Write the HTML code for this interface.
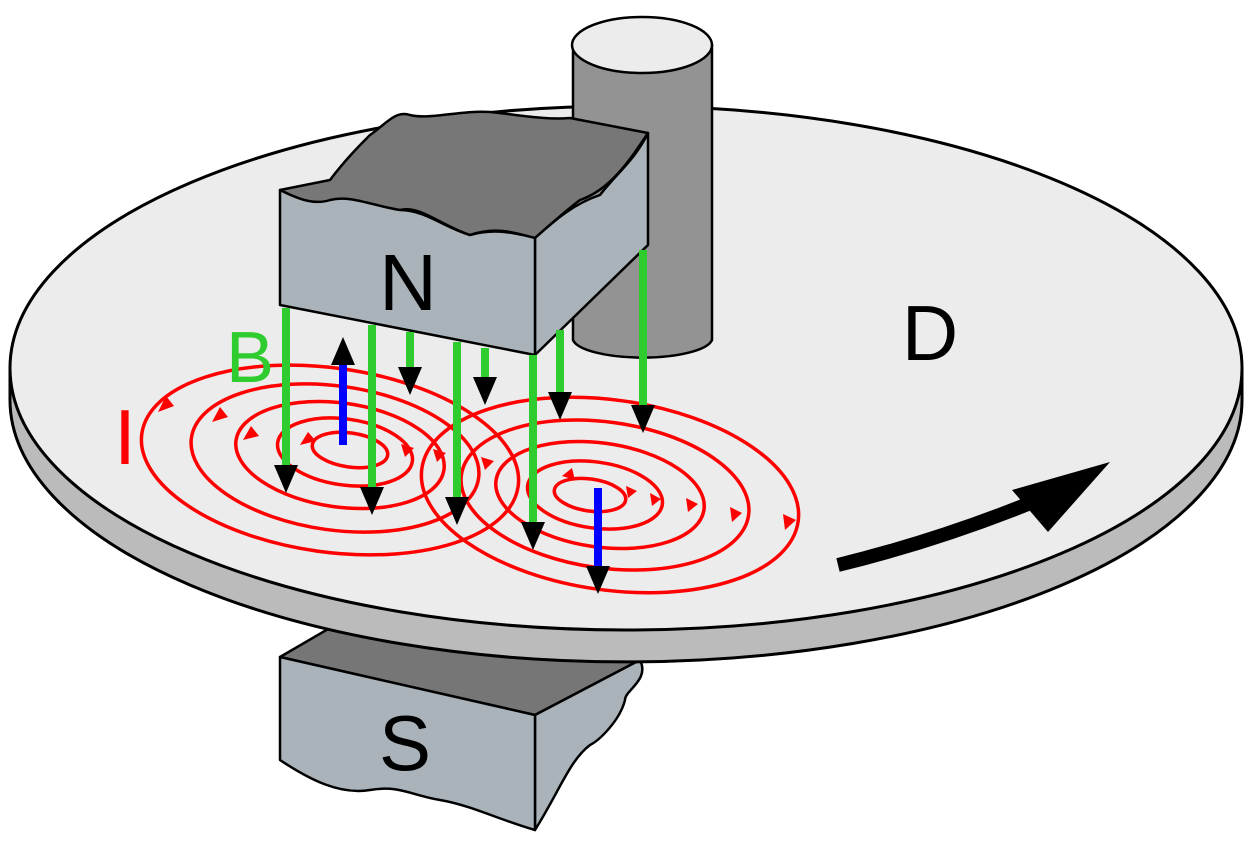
<!DOCTYPE html>
<html><head><meta charset="utf-8"><style>
html,body{margin:0;padding:0;background:#fff;width:1260px;height:845px;overflow:hidden}
svg{display:block}
text{font-family:"Liberation Sans",sans-serif}
</style></head><body>
<svg width="1260" height="845" viewBox="0 0 1260 845">
<!-- S magnet -->
<g stroke="#000" stroke-width="2.5" stroke-linejoin="round">
<path d="M280,657 L335,625 L640,660 L535,715 Z" fill="#767676"/>
<path d="M535,715 L640,660 C650,680 625,690 625,700 C620,720 600,740 590,745 C570,760 560,790 535,830 Z" fill="#a9b3b9"/>
<path d="M280,657 L535,715 L535,830 C500,820 470,805 440,800 C410,795 400,785 370,790 C340,795 310,780 280,760 Z" fill="#a9b3b9"/>
<text x="405" y="770" font-size="78" text-anchor="middle" fill="#000" stroke="none">S</text>
</g>
<!-- Disk -->
<g stroke="#000" stroke-width="3">
<path d="M10,368 L10,400 A616,262 0 0 0 1242,400 L1242,368 Z" fill="#bbbbbb"/>
<ellipse cx="626" cy="368" rx="616" ry="262" fill="#ececec"/>
</g>
<!-- shaft -->
<g stroke="#000" stroke-width="2.5">
<path d="M573,45 L573,340 A70,20 0 0 0 712,340 L712,45 Z" fill="#939393"/>
<ellipse cx="642" cy="45" rx="70" ry="28" fill="#ececec"/>
</g>
<text x="930" y="360" font-size="78" text-anchor="middle" fill="#000">D</text>
<!-- Eddy currents -->
<g fill="none" stroke="#f00" stroke-width="3.5">
<ellipse cx="330" cy="460" rx="190" ry="92" transform="rotate(8 330 460)"/>
<ellipse cx="335" cy="458" rx="145" ry="72" transform="rotate(8 335 458)"/>
<ellipse cx="340" cy="455" rx="105" ry="52" transform="rotate(8 340 455)"/>
<ellipse cx="345" cy="452" rx="68" ry="33" transform="rotate(8 345 452)"/>
<ellipse cx="350" cy="450" rx="38" ry="17" transform="rotate(8 350 450)"/>
<ellipse cx="610" cy="495" rx="190" ry="95" transform="rotate(8 610 495)"/>
<ellipse cx="605" cy="495" rx="145" ry="73" transform="rotate(8 605 495)"/>
<ellipse cx="600" cy="495" rx="105" ry="52" transform="rotate(8 600 495)"/>
<ellipse cx="595" cy="495" rx="68" ry="33" transform="rotate(8 595 495)"/>
<ellipse cx="590" cy="495" rx="36" ry="16" transform="rotate(8 590 495)"/>
</g>
<g fill="#f00">
<path d="M158,412 l8,-16 l8,10 z"/>
<path d="M212,422 l8,-15 l8,10 z"/>
<path d="M243,440 l8,-14 l8,10 z"/>
<path d="M300,445 l8,-13 l8,9 z"/>
<path d="M405,457 l-4,-13 l13,4 z"/>
<path d="M437,462 l-4,-13 l13,4 z"/>
<path d="M485,470 l-4,-13 l13,4 z"/>
<path d="M785,530 l-2,-16 l13,6 z"/>
<path d="M732,522 l-2,-15 l12,6 z"/>
<path d="M688,512 l-2,-14 l12,6 z"/>
<path d="M652,506 l-2,-13 l11,6 z"/>
<path d="M575,480 l-13,-4 l10,-8 z"/>
<path d="M628,498 l-2,-12 l11,5 z"/>
</g>
<text x="125" y="464" font-size="78" text-anchor="middle" fill="#f00">I</text>
<!-- N magnet -->
<g stroke="#000" stroke-width="2.5" stroke-linejoin="round">
<path d="M280,190 L330,180 C345,160 360,145 370,135 C385,125 395,110 410,115 C430,120 460,110 490,112 C520,115 545,120 570,118 L648,133 C630,160 610,190 580,200 C560,215 545,230 535,238 C520,235 500,225 470,235 C440,225 420,205 400,210 C370,210 340,190 320,205 C300,200 290,195 280,190 Z" fill="#777"/>
<path d="M535,238 C550,225 570,205 600,195 C615,175 635,160 648,133 L648,245 L535,355 Z" fill="#a9b3b9"/>
<path d="M280,190 C300,200 315,205 330,200 C350,195 370,205 400,210 C425,210 445,228 470,235 C495,228 515,233 535,238 L535,355 L280,305 Z" fill="#a9b3b9"/>
<text x="408" y="310" font-size="80" text-anchor="middle" fill="#000" stroke="none">N</text>
</g>
<!-- Field lines -->
<g stroke="#2ecc2e" stroke-width="8">
<line x1="286" y1="308" x2="286" y2="468"/>
<line x1="372" y1="325" x2="372" y2="490"/>
<line x1="410" y1="332" x2="410" y2="370"/>
<line x1="457" y1="342" x2="457" y2="500"/>
<line x1="485" y1="348" x2="485" y2="380"/>
<line x1="533" y1="355" x2="533" y2="525"/>
<line x1="560" y1="330" x2="560" y2="395"/>
<line x1="643" y1="250" x2="643" y2="408"/>
</g>
<g fill="#000">
<path d="M274,465 h24 l-12,28 z"/><path d="M360,487 h24 l-12,28 z"/><path d="M398,367 h24 l-12,28 z"/>
<path d="M445,497 h24 l-12,28 z"/><path d="M473,377 h24 l-12,28 z"/><path d="M521,522 h24 l-12,28 z"/>
<path d="M548,392 h24 l-12,28 z"/><path d="M631,405 h24 l-12,28 z"/>
</g>
<text x="250" y="382" font-size="72" text-anchor="middle" fill="#2ecc2e">B</text>
<!-- blue force vectors -->
<g>
<line x1="343" y1="445" x2="343" y2="360" stroke="#00f" stroke-width="8"/>
<path d="M331,365 h24 l-12,-28 z" fill="#000"/>
<line x1="598" y1="488" x2="598" y2="570" stroke="#00f" stroke-width="8"/>
<path d="M586,566 h24 l-12,28 z" fill="#000"/>
</g>
<!-- rotation arrow -->
<g>
<path d="M838,565 C920,545 990,520 1050,495" fill="none" stroke="#000" stroke-width="14"/>
<path d="M1012,490 L1110,462 L1048,532 Z" fill="#000"/>
</g>
</svg>
</body></html>
